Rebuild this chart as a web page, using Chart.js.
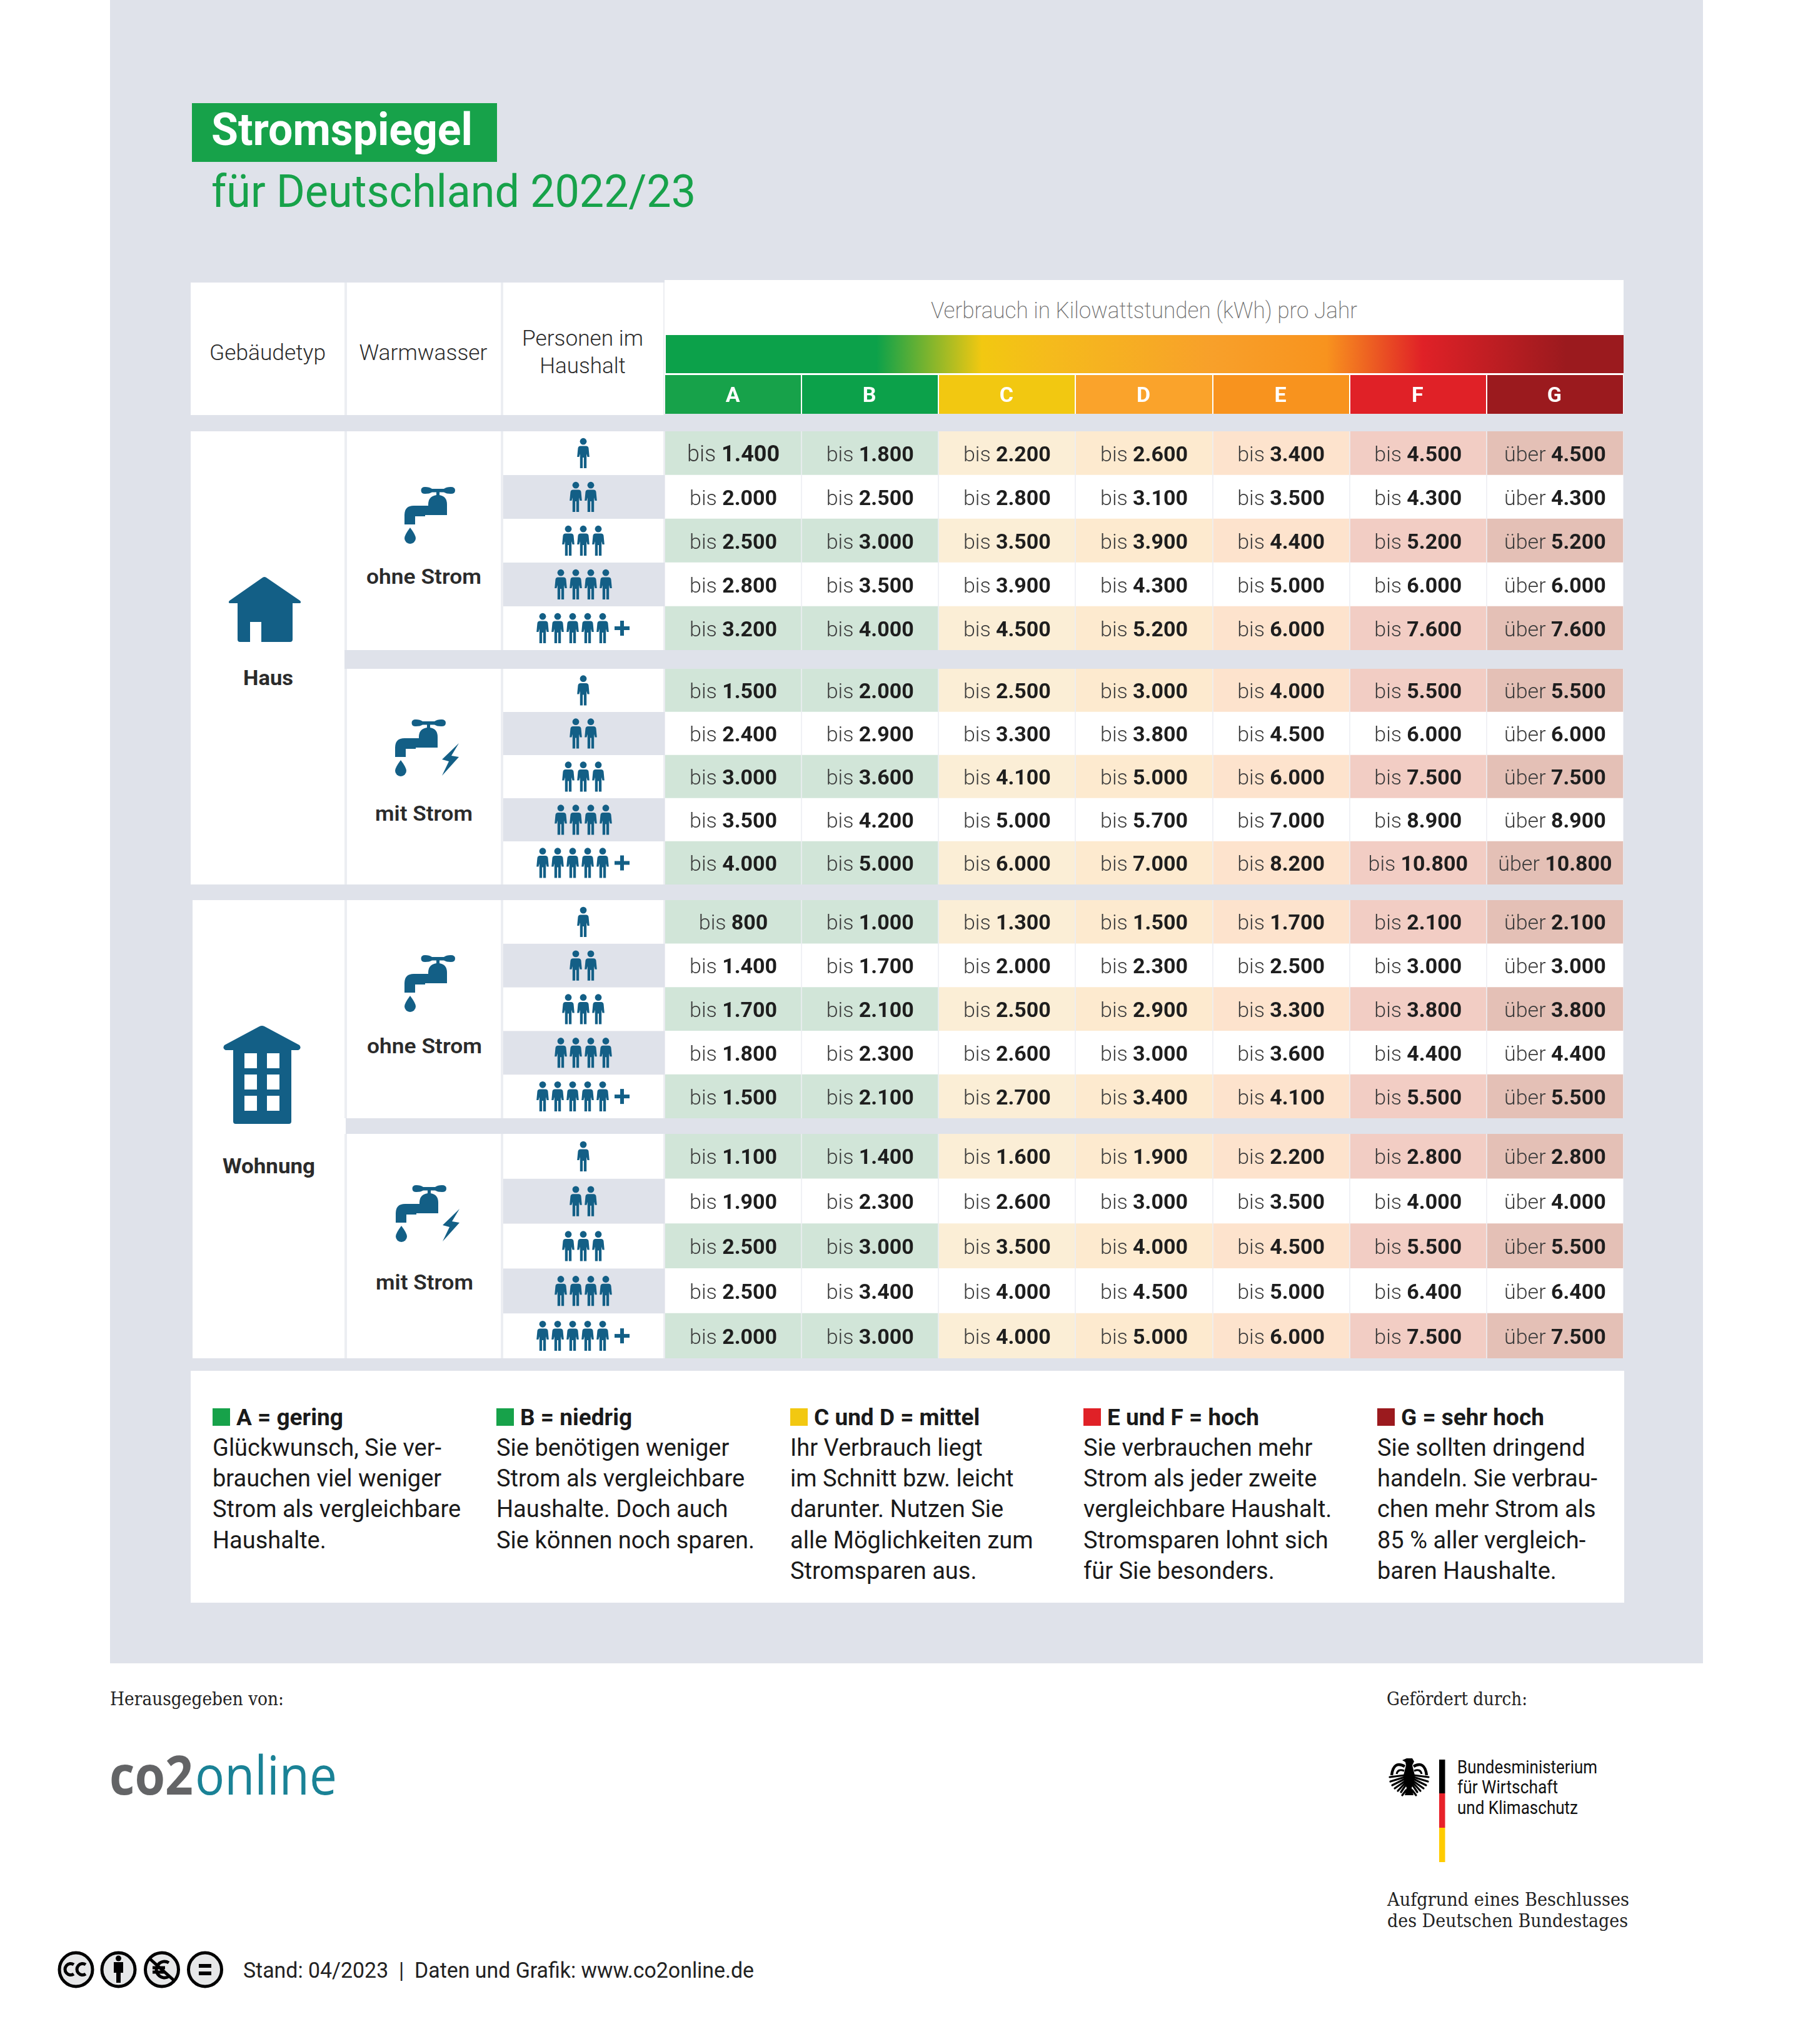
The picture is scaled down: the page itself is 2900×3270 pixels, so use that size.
<!DOCTYPE html>
<html lang="de">
<head>
<meta charset="UTF-8">
<title>Stromspiegel für Deutschland 2022/23</title>
<script src="https://cdn.jsdelivr.net/npm/chart.js"></script>
<style>
    html, body { margin: 0; padding: 0; background: #fff; }
    #page { position: relative; width: 2900px; height: 3270px; overflow: hidden; }
    #page svg { position: absolute; left: 0; top: 0; }
    #page canvas { position: absolute; }
</style>
</head>
<body>
<div id="page"></div>
<script>
// chart data, kWh per year, columns A..G
const classes = ['A', 'B', 'C', 'D', 'E', 'F', 'G'];
const personRows = ['1', '2', '3', '4', '5+'];
const hausOhneStrom = [
    [1400, 1800, 2200, 2600, 3400, 4500, 4500],
    [2000, 2500, 2800, 3100, 3500, 4300, 4300],
    [2500, 3000, 3500, 3900, 4400, 5200, 5200],
    [2800, 3500, 3900, 4300, 5000, 6000, 6000],
    [3200, 4000, 4500, 5200, 6000, 7600, 7600]
];
const hausMitStrom = [
    [1500, 2000, 2500, 3000, 4000, 5500, 5500],
    [2400, 2900, 3300, 3800, 4500, 6000, 6000],
    [3000, 3600, 4100, 5000, 6000, 7500, 7500],
    [3500, 4200, 5000, 5700, 7000, 8900, 8900],
    [4000, 5000, 6000, 7000, 8200, 10800, 10800]
];
const wohnungOhneStrom = [
    [800, 1000, 1300, 1500, 1700, 2100, 2100],
    [1400, 1700, 2000, 2300, 2500, 3000, 3000],
    [1700, 2100, 2500, 2900, 3300, 3800, 3800],
    [1800, 2300, 2600, 3000, 3600, 4400, 4400],
    [1500, 2100, 2700, 3400, 4100, 5500, 5500]
];
const wohnungMitStrom = [
    [1100, 1400, 1600, 1900, 2200, 2800, 2800],
    [1900, 2300, 2600, 3000, 3500, 4000, 4000],
    [2500, 3000, 3500, 4000, 4500, 5500, 5500],
    [2500, 3400, 4000, 4500, 5000, 6400, 6400],
    [2000, 3000, 4000, 5000, 6000, 7500, 7500]
];
const legendTitles = ['A = gering', 'B = niedrig', 'C und D = mittel', 'E und F = hoch', 'G = sehr hoch'];
const legendLines = [
    ['Glückwunsch, Sie ver-', 'brauchen viel weniger', 'Strom als vergleichbare', 'Haushalte.'],
    ['Sie benötigen weniger', 'Strom als vergleichbare', 'Haushalte. Doch auch', 'Sie können noch sparen.'],
    ['Ihr Verbrauch liegt', 'im Schnitt bzw. leicht', 'darunter. Nutzen Sie', 'alle Möglichkeiten zum', 'Stromsparen aus.'],
    ['Sie verbrauchen mehr', 'Strom als jeder zweite', 'vergleichbare Haushalt.', 'Stromsparen lohnt sich', 'für Sie besonders.'],
    ['Sie sollten dringend', 'handeln. Sie verbrau-', 'chen mehr Strom als', '85 % aller vergleich-', 'baren Haushalte.']
];

// colours
const panelGrey = '#dfe2ea';
const lineGrey = '#eceef2';
const iconBlue = '#135f86';
const textDark = '#2b2b2b';
const classColors = ['#17a24a', '#0ca14a', '#f2c811', '#faa32b', '#f8931e', '#e02127', '#9b1a1e'];
const cellTints = ['#d1e5d8', '#d1e5d8', '#fbeed6', '#fdeacf', '#fde3cd', '#f2cdc4', '#e4c0b6'];
const legendColors = ['#17a24a', '#17a24a', '#f2c811', '#e02127', '#9b1a1e'];

// svg helpers
function t(str, x, y, o) {
    o = o || {};
    let len = o.len ? ` textLength="${o.len}" lengthAdjust="spacingAndGlyphs"` : '';
    return `<text x="${x}" y="${y}" font-family="${o.family || 'Roboto'}" font-size="${o.size || 34}" ` +
        `font-weight="${o.weight || 400}" fill="${o.fill || textDark}" text-anchor="${o.anchor || 'start'}"${len}>${str}</text>`;
}
function r(x, y, w, h, fill) {
    return `<rect x="${x}" y="${y}" width="${w}" height="${h}" fill="${fill}"/>`;
}
function use(id, x, y) {
    return `<use href="#${id}" x="${x}" y="${y}"/>`;
}

const defs = `<defs>
<linearGradient id="scale">
  <stop offset="0" stop-color="#0ca14a"/><stop offset=".22" stop-color="#0ca14a"/>
  <stop offset=".33" stop-color="#f2c811"/><stop offset=".40" stop-color="#f5bb1c"/>
  <stop offset=".57" stop-color="#f8a02a"/><stop offset=".69" stop-color="#f8931e"/>
  <stop offset=".79" stop-color="#e02127"/><stop offset=".94" stop-color="#9b1a1e"/>
  <stop offset="1" stop-color="#9b1a1e"/>
</linearGradient>
<g id="person" fill="${iconBlue}">
  <circle cx="9" cy="5.2" r="5.4"/>
  <path d="M4.500 12.500H13.500Q17 12.500 17.500 16L18.800 30H15.600L14.200 25V48H9.900V31H8.100V48H3.800V25L2.400 30H-.8L.5 16Q1 12.500 4.500 12.500Z"/>
</g>
<g id="tap" fill="${iconBlue}">
  <path d="M26.500 5.500Q26.500 0 33 0Q40 0 44 3H63Q67 0 74 0Q81 0 81 5.500Q81 11 74 11Q67 11 63 8.500H56V13Q68 15 68 28V45H33V47H17V60H0V45Q0 30 15 30H38V28Q38 15 51 13V8.500H44Q40 11 33 11Q26.500 11 26.500 5.500Z"/>
  <path d="M9 65Q18 77 18 82A9 9 0 0 1 0 82Q0 77 9 65Z"/>
</g>
<g id="bolt" fill="${iconBlue}"><path d="M27 0L0 26L11 29L0 52L27 22L15 20Z"/></g>
<g id="house" fill="${iconBlue}">
  <path d="M14 100Q14 104 18 104H98Q102 104 102 100V42L112 42Q117 42 114 38L60 1Q57 -1 54 1L1 38Q-2 42 3 42L14 42Z"/>
  <rect x="34" y="72" width="18" height="32" fill="#fff"/>
</g>
<g id="building" fill="${iconBlue}">
  <path d="M16 153Q16 157 20 157H105Q109 157 109 153V39L120 39Q126 36 122 31L66 1Q62 -1 58 1L2 31Q-2 36 4 39L16 39Z"/>
  <g fill="#fff">
    <rect x="34" y="44" width="20" height="24"/><rect x="70" y="44" width="20" height="24"/>
    <rect x="34" y="78" width="20" height="24"/><rect x="70" y="78" width="20" height="24"/>
    <rect x="34" y="112" width="20" height="24"/><rect x="70" y="112" width="20" height="24"/>
  </g>
</g>
<g id="eagleWing">
  <path d="M2247 2826Q2229 2816 2226 2840" fill="none" stroke="#000" stroke-width="4.500"/>
  <path d="M2246 2833Q2236 2829 2234 2838" fill="none" stroke="#000" stroke-width="3"/>
  <g fill="none" stroke="#000" stroke-width="3.200" stroke-linecap="round">
    <path d="M2247 2840L2223 2843"/><path d="M2247 2843L2224 2850"/><path d="M2247 2846L2227 2856"/>
    <path d="M2248 2849L2231 2861"/><path d="M2248 2852L2236 2865"/><path d="M2249 2855L2241 2867"/>
    <path d="M2249 2864L2243 2872"/>
  </g>
</g>
</defs>`;

// row heights in the picture are near equal, so each block is its own chart
const tableLeft = 1063, tableWidth = 1534;
const blocks = [
    { rows: hausOhneStrom, top: 690, bottom: 1040 },
    { rows: hausMitStrom, top: 1070, bottom: 1415 },
    { rows: wohnungOhneStrom, top: 1440, bottom: 1789 },
    { rows: wohnungMitStrom, top: 1814, bottom: 2173 }
];

function sideColumns(top, bottom) {
    let s = r(551, top, 512, bottom - top, lineGrey);
    s += r(555, top, 246, bottom - top, '#fff') + r(805, top, 256, bottom - top, '#fff');
    let h = (bottom - top) / personRows.length;
    // grey stripes and people in the persons column
    personRows.forEach((p, i) => {
        let y = top + i * h;
        if (i % 2 == 1) s += r(805, y, 258, h, panelGrey);
        let n = i + 1, iy = y + h / 2 - 24;
        if (i < 4) {
            for (let k = 0; k < n; k++) s += use('person', 933 - 9 + (k - (n - 1) / 2) * 24, iy);
        } else {
            for (let k = 0; k < 5; k++) s += use('person', 859 + k * 24, iy);
            s += r(983, y + h / 2 - 3, 24, 6, iconBlue) + r(992, y + h / 2 - 12, 6, 24, iconBlue);
        }
    });
    return s;
}

function legendSvg() {
    let xs = [340, 794, 1264, 1733, 2203];
    let s = r(305, 2193, 2293, 371, '#fff');
    legendTitles.forEach((title, i) => {
        s += r(xs[i], 2253, 28, 28, legendColors[i]);
        s += t(title, xs[i] + 38, 2280, { size: 37, weight: 700, fill: '#1a1a1a' });
        legendLines[i].forEach((line, j) => {
            s += t(line, xs[i], 2329 + j * 49.200, { size: 38, fill: '#1a1a1a' });
        });
    });
    return s;
}

function eagle() {
    let s = use('eagleWing', 0, 0);
    s += '<g transform="translate(4508,0) scale(-1,1)">' + use('eagleWing', 0, 0) + '</g>';
    s += '<path d="M2243 2816L2250 2813L2259 2813L2262 2818L2259 2824L2263 2840L2262 2852L2258 2860L2261 2872H2247L2250 2860L2246 2852L2245 2840L2249 2824L2248 2819Z" fill="#000"/>';
    return s;
}

function ccIcons() {
    let s = '<g stroke="#000" stroke-width="5" fill="#e6e7e8">';
    [121.5, 189.5, 259, 328].forEach(cx => { s += `<ellipse cx="${cx}" cy="3151" rx="26.500" ry="27"/>`; });
    s += '</g><g fill="none" stroke="#000" stroke-width="5">';
    s += '<path d="M118 3143A9 9 0 1 0 118 3158M137 3143A9 9 0 1 0 137 3158"/>';
    s += '<path d="M270 3140A13 13 0 1 0 270 3162M244 3148H264M244 3155H262M240 3134L278 3168"/></g>';
    s += '<circle cx="189.500" cy="3133" r="4.500" fill="#000"/><path d="M182 3139H197V3156H193V3172H186V3156H182Z" fill="#000"/>';
    s += r(318, 3142, 20, 6, '#000') + r(318, 3154, 20, 6, '#000');
    return s;
}

let svg = `<svg width="2900" height="3270" xmlns="http://www.w3.org/2000/svg">${defs}`;
svg += r(176, 0, 2548, 2661, panelGrey);

// title
svg += r(307, 165, 488, 94, '#17a24a');
svg += t('Stromspiegel', 338, 232, { size: 72, weight: 700, fill: '#fff', len: 418 });
svg += t('für Deutschland 2022/23', 338, 331, { size: 72, fill: '#17a24a', len: 775 });

// table header
svg += r(305, 452, 758, 212, lineGrey) + r(305, 452, 246, 212, '#fff') + r(555, 452, 246, 212, '#fff') + r(805, 452, 256, 212, '#fff');
svg += r(tableLeft, 448, tableWidth, 152, '#fff');
svg += r(tableLeft + 2, 536, tableWidth - 2, 61, 'url(#scale)');
svg += t('Gebäudetyp', 428, 576, { size: 35, weight: 300, anchor: 'middle', len: 186 });
svg += t('Warmwasser', 677, 576, { size: 35, weight: 300, anchor: 'middle', len: 205 });
svg += t('Personen im', 932, 553, { size: 35, weight: 300, anchor: 'middle', len: 194 });
svg += t('Haushalt', 932, 597, { size: 35, weight: 300, anchor: 'middle' });
svg += t('Verbrauch in Kilowattstunden (kWh) pro Jahr', 1830, 509, { size: 36, weight: 200, fill: '#6f6f6f', anchor: 'middle', len: 682 });

// left columns
svg += r(305, 690, 246, 725, '#fff') + r(308, 1440, 245, 733, '#fff');
blocks.forEach(b => { svg += sideColumns(b.top, b.bottom); });
svg += use('house', 366, 923) + t('Haus', 429, 1096, { weight: 700, anchor: 'middle', len: 80 });
svg += use('tap', 647, 779) + t('ohne Strom', 678, 934, { weight: 600, anchor: 'middle', len: 184 });
svg += use('tap', 632, 1151) + use('bolt', 707, 1189) + t('mit Strom', 678, 1313, { weight: 600, anchor: 'middle', len: 156 });
svg += use('building', 357, 1641) + t('Wohnung', 430, 1877, { weight: 700, anchor: 'middle', len: 148 });
svg += use('tap', 647, 1528) + t('ohne Strom', 679, 1685, { weight: 600, anchor: 'middle', len: 184 });
svg += use('tap', 633, 1896) + use('bolt', 708, 1934) + t('mit Strom', 679, 2063, { weight: 600, anchor: 'middle', len: 156 });

svg += legendSvg();

// footer
const slab = 'DejaVu Serif';
svg += t('Herausgegeben von:', 176, 2728, { family: slab, size: 29, fill: '#222', len: 278 });
svg += t('co2', 175, 2871, { family: 'Open Sans', size: 86, weight: 700, fill: '#636466', len: 134 });
svg += t('online', 312, 2871, { family: 'Open Sans', size: 86, fill: '#1a8296', len: 227 });
svg += t('Gefördert durch:', 2218, 2728, { family: slab, size: 29, fill: '#222', len: 225 });
svg += eagle();
svg += r(2302, 2815, 9.500, 54, '#000') + r(2302, 2869, 9.500, 55, '#e8222a') + r(2302, 2924, 9.500, 55, '#ffcc00');
svg += t('Bundesministerium', 2331, 2837, { size: 30, fill: '#111', len: 224 });
svg += t('für Wirtschaft', 2331, 2869, { size: 30, fill: '#111', len: 161 });
svg += t('und Klimaschutz', 2331, 2902, { size: 30, fill: '#111', len: 193 });
svg += t('Aufgrund eines Beschlusses', 2219, 3049, { family: slab, size: 29, fill: '#222', len: 387 });
svg += t('des Deutschen Bundestages', 2219, 3083, { family: slab, size: 29, fill: '#222', len: 385 });
svg += ccIcons();
svg += t('Stand: 04/2023\u00a0\u00a0|\u00a0\u00a0Daten und Grafik: www.co2online.de', 389, 3164, { size: 35, fill: '#222', len: 817 });
svg += '</svg>';
document.getElementById('page').innerHTML = svg;

// writes "bis 1.400" into every cell, lead word light and number bold
const cellText = {
    id: 'cellText',
    afterDatasetsDraw(chart) {
        const ctx = chart.ctx;
        ctx.save();
        ctx.textBaseline = 'alphabetic';
        ctx.textAlign = 'left';
        chart.data.datasets.forEach((ds, k) => {
            chart.getDatasetMeta(k).data.forEach((bar, i) => {
                const c = bar.getCenterPoint();
                const lead = k == 6 ? 'über ' : 'bis ';
                const num = ds.values[i].toLocaleString('de-DE');
                // the very first cell is set a bit larger in the original
                const size = (ds.values === firstColumn && i == 0) ? 36 : 34;
                ctx.font = `300 ${size}px Roboto`;
                const w1 = ctx.measureText(lead).width;
                ctx.font = `700 ${size}px Roboto`;
                const w2 = ctx.measureText(num).width;
                let x = c.x - (w1 + w2) / 2, y = c.y + 12.500;
                ctx.fillStyle = '#3a3a3a';
                ctx.font = `300 ${size}px Roboto`;
                ctx.fillText(lead, x, y);
                ctx.fillStyle = '#1e1e1e';
                ctx.font = `700 ${size}px Roboto`;
                ctx.fillText(num, x + w1, y);
            });
        });
        ctx.restore();
    }
};
const firstColumn = hausOhneStrom.map(row => row[0]);
const classLetters = {
    id: 'classLetters',
    afterDatasetsDraw(chart) {
        const ctx = chart.ctx;
        ctx.save();
        ctx.fillStyle = '#fff';
        ctx.font = '700 34px Roboto';
        ctx.textAlign = 'center';
        ctx.textBaseline = 'alphabetic';
        chart.data.datasets.forEach((ds, k) => {
            const c = chart.getDatasetMeta(k).data[0].getCenterPoint();
            ctx.fillText(ds.label, c.x - 1, c.y + 12);
        });
        ctx.restore();
    }
};

function makeChart(labels, datasets, top, height, plugin, gridColor) {
    const canvas = document.createElement('canvas');
    canvas.width = tableWidth;
    canvas.height = height;
    canvas.style.left = tableLeft + 'px';
    canvas.style.top = top + 'px';
    document.getElementById('page').appendChild(canvas);
    return new Chart(canvas, {
        type: 'bar',
        data: { labels: labels, datasets: datasets },
        plugins: [plugin],
        options: {
            indexAxis: 'y',
            responsive: false,
            animation: false,
            devicePixelRatio: 1,
            layout: { padding: 0 },
            plugins: { legend: { display: false }, tooltip: { enabled: false } },
            scales: {
                x: {
                    stacked: true, min: 0, max: classes.length,
                    ticks: { display: false, stepSize: 1 },
                    border: { display: false },
                    grid: { color: gridColor, lineWidth: 2, z: 1, drawTicks: false }
                },
                y: { stacked: true, display: false }
            }
        }
    });
}

// class letters row
makeChart(['Klasse'], classes.map((c, k) => ({
    label: c,
    data: [1],
    backgroundColor: classColors[k],
    barPercentage: 1,
    categoryPercentage: 1
})), 600, 62, classLetters, '#ffffff');

// the four value blocks
blocks.forEach((b, n) => {
    makeChart(personRows, classes.map((c, k) => ({
        label: c,
        data: b.rows.map(() => 1),
        values: (n == 0 && k == 0) ? firstColumn : b.rows.map(row => row[k]),
        backgroundColor: b.rows.map((row, i) => i % 2 == 0 ? cellTints[k] : '#ffffff'),
        barPercentage: 1,
        categoryPercentage: 1
    })), b.top, b.bottom - b.top, cellText, 'rgba(236,238,242,0.8)');
});
</script>
</body>
</html>
